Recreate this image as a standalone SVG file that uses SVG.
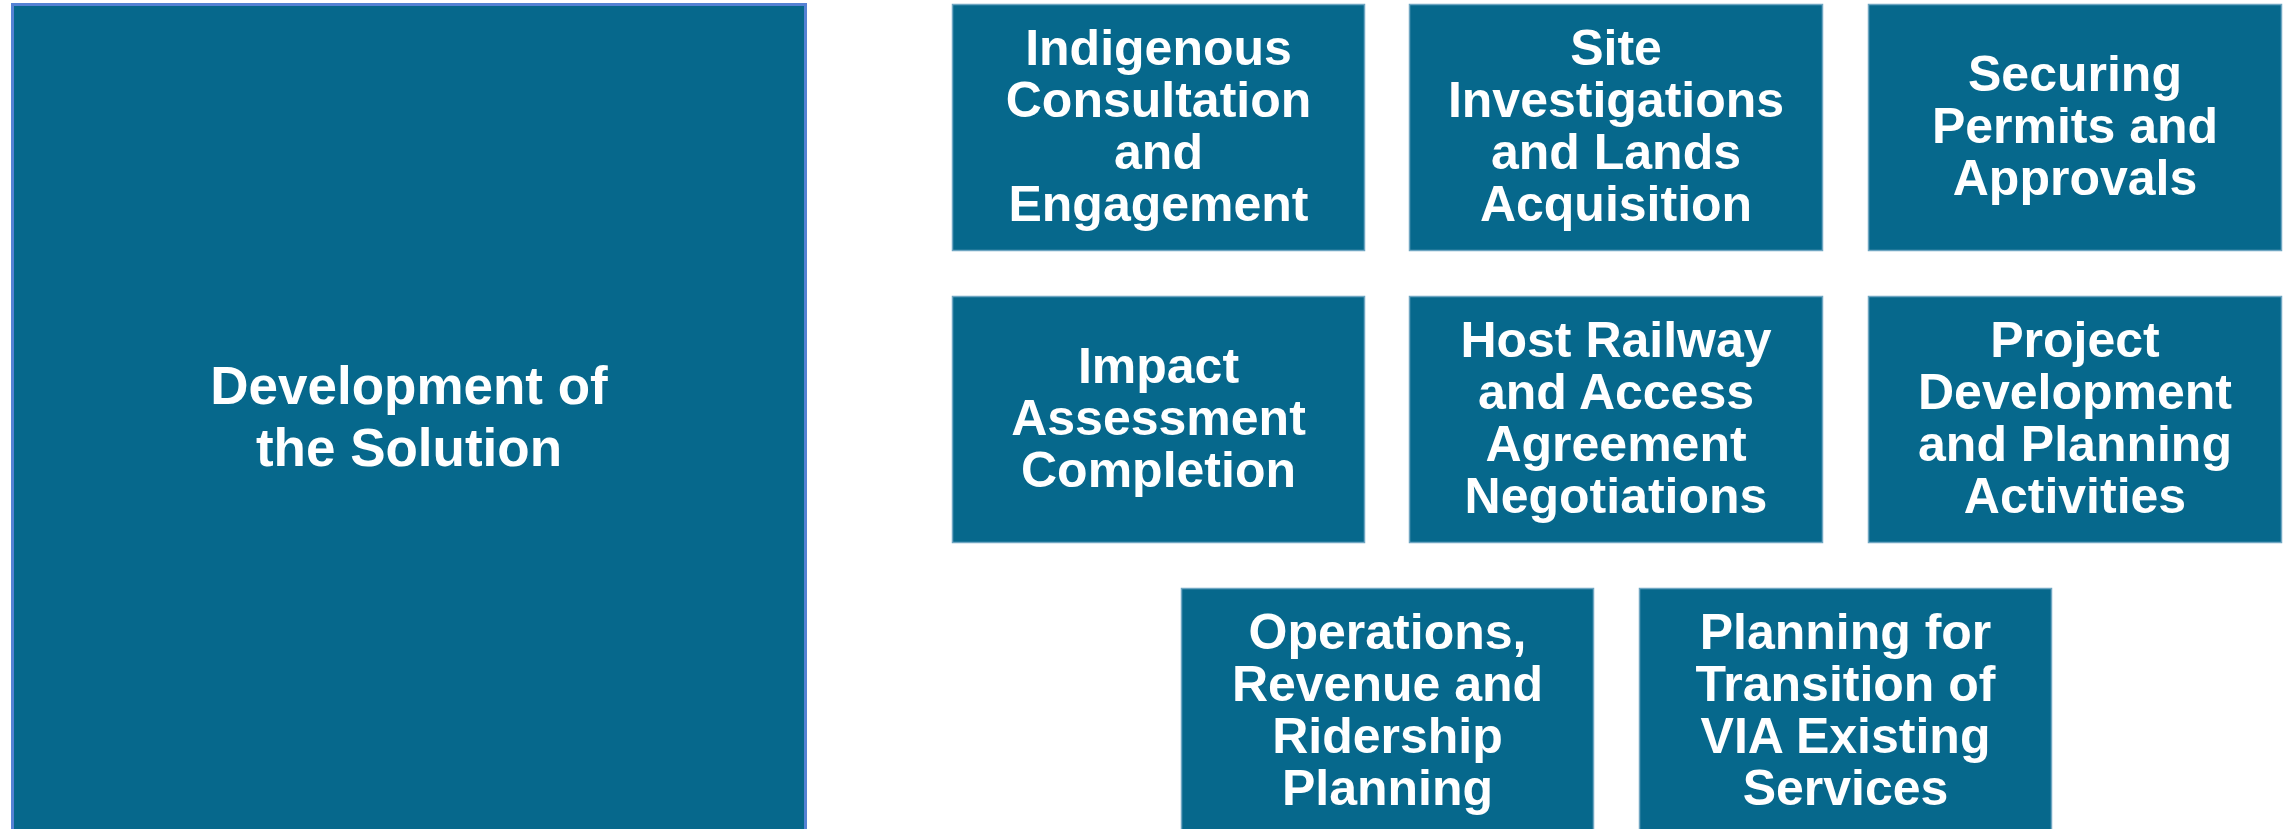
<svg xmlns="http://www.w3.org/2000/svg" width="2290" height="829" viewBox="0 0 2290 829">
<style>
.box{fill:#06688c;stroke:#6fa6c2;stroke-width:1.5}
.big{fill:#06688c;stroke:#5582d4;stroke-width:3}
.t{font-family:"Liberation Sans",Arial,sans-serif;font-weight:bold;font-size:50px;fill:#ffffff;text-anchor:middle}
.tb{font-size:53px}
</style>
<rect width="2290" height="829" fill="#ffffff"/>
<g id="development">
<rect class="big" x="12.5" y="4.5" width="793" height="840"/>
<text class="t tb" x="409" y="404">Development of</text>
<text class="t tb" x="409" y="466">the Solution</text>
</g>
<g id="indigenous">
<rect class="box" x="952.5" y="4.5" width="412" height="246"/>
<text class="t" x="1158.5" y="65">Indigenous</text>
<text class="t" x="1158.5" y="117">Consultation</text>
<text class="t" x="1158.5" y="169">and</text>
<text class="t" x="1158.5" y="221">Engagement</text>
</g>
<g id="site">
<rect class="box" x="1409.5" y="4.5" width="413" height="246"/>
<text class="t" x="1616" y="65">Site</text>
<text class="t" x="1616" y="117">Investigations</text>
<text class="t" x="1616" y="169">and Lands</text>
<text class="t" x="1616" y="221">Acquisition</text>
</g>
<g id="permits">
<rect class="box" x="1868.5" y="4.5" width="413" height="246"/>
<text class="t" x="2075" y="91">Securing</text>
<text class="t" x="2075" y="143">Permits and</text>
<text class="t" x="2075" y="195">Approvals</text>
</g>
<g id="impact">
<rect class="box" x="952.5" y="296.5" width="412" height="246"/>
<text class="t" x="1158.5" y="383">Impact</text>
<text class="t" x="1158.5" y="435">Assessment</text>
<text class="t" x="1158.5" y="487">Completion</text>
</g>
<g id="host">
<rect class="box" x="1409.5" y="296.5" width="413" height="246"/>
<text class="t" x="1616" y="357">Host Railway</text>
<text class="t" x="1616" y="409">and Access</text>
<text class="t" x="1616" y="461">Agreement</text>
<text class="t" x="1616" y="513">Negotiations</text>
</g>
<g id="project">
<rect class="box" x="1868.5" y="296.5" width="413" height="246"/>
<text class="t" x="2075" y="357">Project</text>
<text class="t" x="2075" y="409">Development</text>
<text class="t" x="2075" y="461">and Planning</text>
<text class="t" x="2075" y="513">Activities</text>
</g>
<g id="operations">
<rect class="box" x="1181.5" y="588.5" width="412" height="246"/>
<text class="t" x="1387.5" y="649">Operations,</text>
<text class="t" x="1387.5" y="701">Revenue and</text>
<text class="t" x="1387.5" y="753">Ridership</text>
<text class="t" x="1387.5" y="805">Planning</text>
</g>
<g id="transition">
<rect class="box" x="1639.5" y="588.5" width="412" height="246"/>
<text class="t" x="1845.5" y="649">Planning for</text>
<text class="t" x="1845.5" y="701">Transition of</text>
<text class="t" x="1845.5" y="753">VIA Existing</text>
<text class="t" x="1845.5" y="805">Services</text>
</g>
<g id="connectors"></g>
</svg>
